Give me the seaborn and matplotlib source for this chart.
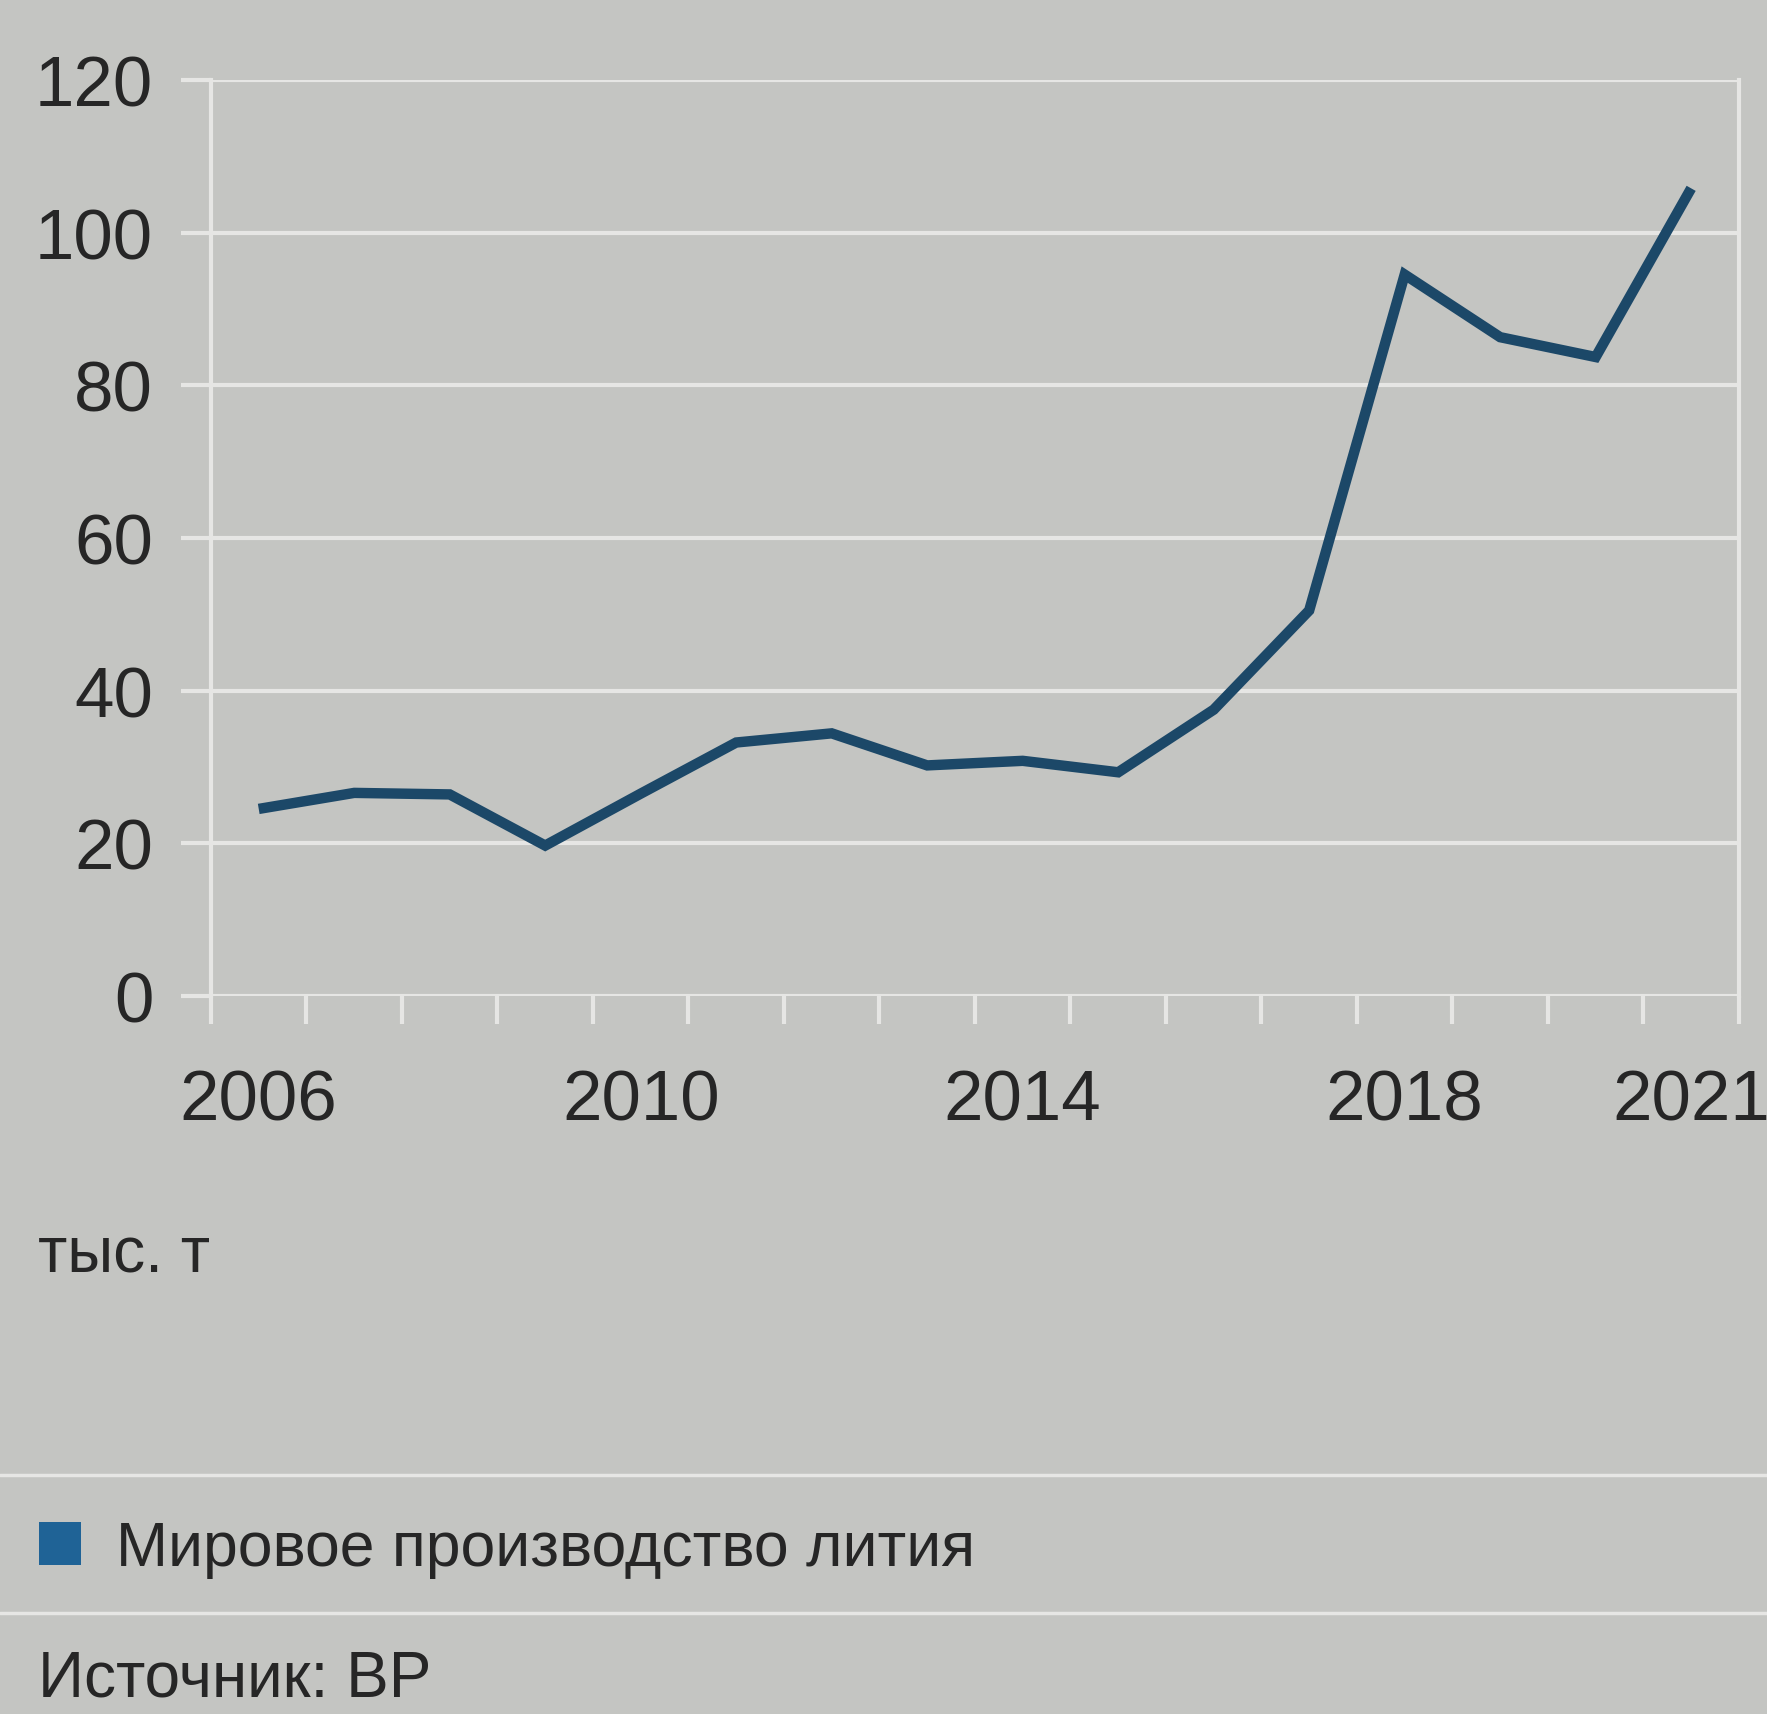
import numpy as np
import pandas as pd
import matplotlib
matplotlib.use('Agg')
import matplotlib.pyplot as plt
import seaborn as sns
from matplotlib.lines import Line2D
from matplotlib.patches import Patch

# ==========================================
# Data
# ==========================================
years = [2006, 2007, 2008, 2009, 2010, 2011, 2012, 2013,
         2014, 2015, 2016, 2017, 2018, 2019, 2020, 2021]
lithium = [24.5, 26.6, 26.4, 19.7, 26.5, 33.2, 34.4, 30.2,
           30.8, 29.3, 37.5, 50.5, 94.5, 86.3, 83.7, 105.8]
x_labels = [2006, 2010, 2014, 2018, 2021]
y_ticks = [0, 20, 40, 60, 80, 100, 120]

unit_text = 'тыс. т'
legend_text = 'Мировое производство лития'
source_text = 'Источник: BP'

BG = '#c4c5c2'
GRID = '#e6e6e4'
LINE = '#1c4868'
SQUARE = '#1f6396'
TEXT = '#262626'

sns.set_theme(style='darkgrid')
plt.rcParams['font.family'] = ['Liberation Sans', 'DejaVu Sans']

df = pd.DataFrame({'year': years, 'value': lithium})

fig = plt.figure(figsize=(17.67, 17.15), dpi=100, facecolor=BG)
ax = fig.add_axes([0.1194, 0.4187, 0.8647, 0.5341])
ax.set_facecolor(BG)

sns.lineplot(data=df, x='year', y='value', ax=ax, color=LINE, linewidth=7.5,
             solid_joinstyle='miter', solid_capstyle='butt', zorder=3)

# axes ranges / ticks
ax.set_xlim(years[0] - 0.5, years[-1] + 0.5)
ax.set_ylim(y_ticks[0], y_ticks[-1])
ax.set_yticks(y_ticks)
ax.set_xticks(x_labels)
ax.set_xticklabels([str(v) for v in x_labels])
ax.set_xticks(np.arange(years[0] - 0.5, years[-1] + 1), minor=True)

ax.grid(True, axis='y', color=GRID, linewidth=3, zorder=1)
ax.grid(False, axis='x')
ax.set_axisbelow(True)

ax.tick_params(axis='y', which='major', length=21.6, width=3, color=GRID,
               pad=20, labelsize=51, labelcolor=TEXT, left=True)
ax.tick_params(axis='x', which='major', length=0, pad=52,
               labelsize=51, labelcolor=TEXT)
ax.tick_params(axis='x', which='minor', length=20, width=3, color=GRID,
               direction='out', bottom=True)

for side in ['left', 'right']:
    ax.spines[side].set_visible(True)
    ax.spines[side].set_color(GRID)
    ax.spines[side].set_linewidth(3)
for side in ['top', 'bottom']:
    ax.spines[side].set_visible(False)

ax.set_xlabel('')
ax.set_ylabel('')

# units label
fig.text(0.0215, 0.2583, unit_text, fontsize=46, color=TEXT, va='baseline', ha='left')

# separator lines
for yy in [0.1394, 0.0589]:
    fig.add_artist(Line2D([0, 1], [yy, yy], transform=fig.transFigure,
                          color=GRID, linewidth=2.5))

# legend
handles = [Patch(facecolor=SQUARE, edgecolor='none')]
fig.legend(handles, [legend_text], loc='center left',
           bbox_to_anchor=(0.022, 0.0965), frameon=False,
           borderpad=0, borderaxespad=0,
           fontsize=45, handlelength=0.68, handleheight=0.68,
           handletextpad=0.55, labelcolor=TEXT)

# source
fig.text(0.0215, 0.011, source_text, fontsize=46, color=TEXT, va='baseline', ha='left')

plt.savefig('out.png', dpi=100, facecolor=BG)
plt.close()
